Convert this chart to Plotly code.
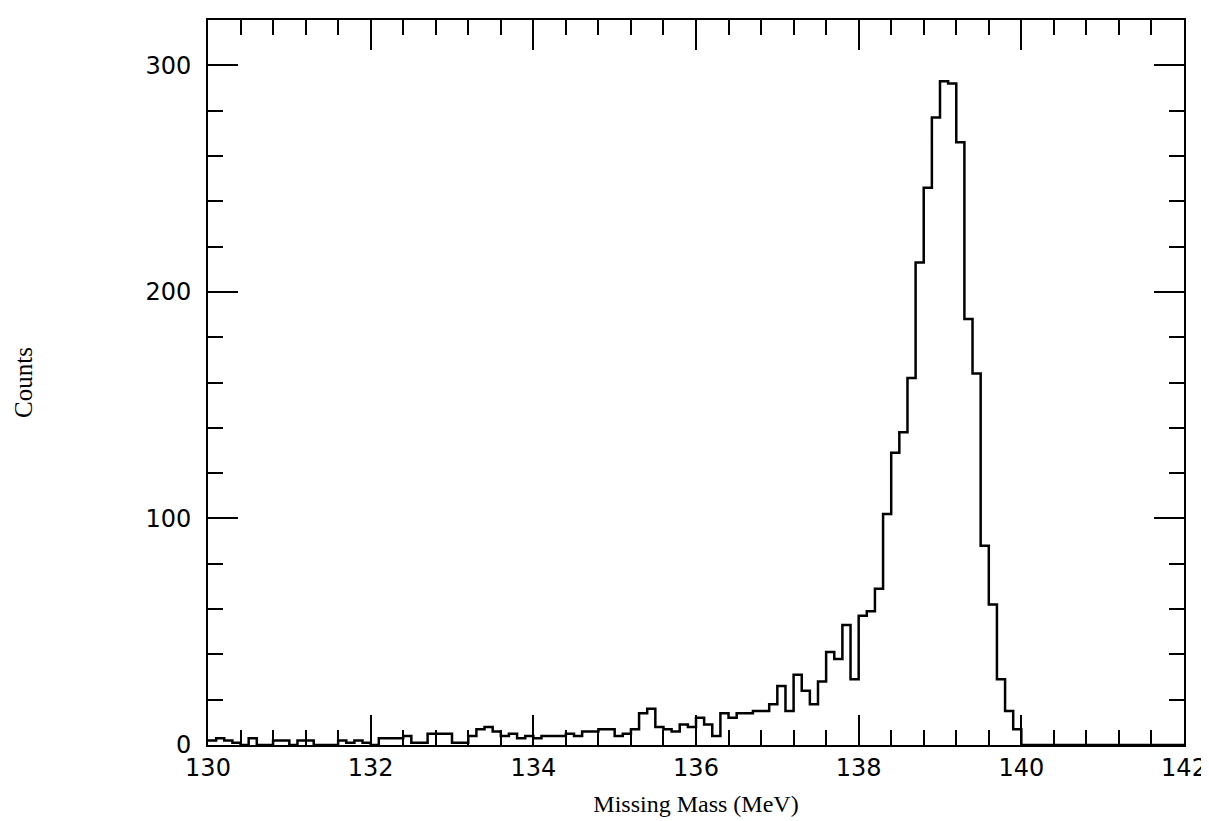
import numpy as np
import plotly.graph_objects as go

# Histogram: missing mass, 0.1 MeV bins from 130.0 to 142.0
bin_start = 130.0
bin_width = 0.1
counts = [
    # 130.0 - 130.9
    2, 3, 2, 1, 0, 3, 0, 0, 2, 2,
    # 131.0 - 131.9
    0, 2, 2, 0, 0, 0, 2, 1, 2, 1,
    # 132.0 - 132.9
    0, 3, 3, 3, 4, 1, 1, 5, 5, 5,
    # 133.0 - 133.9
    1, 1, 4, 7, 8, 6, 4, 5, 3, 4,
    # 134.0 - 134.9
    3, 4, 4, 4, 5, 4, 6, 6, 7, 7,
    # 135.0 - 135.9
    4, 5, 7, 14, 16, 8, 7, 6, 9, 8,
    # 136.0 - 136.9
    12, 9, 4, 14, 12, 14, 14, 15, 15, 18,
    # 137.0 - 137.9
    26, 15, 31, 24, 18, 28, 41, 38, 53, 29,
    # 138.0 - 138.9
    57, 59, 69, 102, 129, 138, 162, 213, 246, 277,
    # 139.0 - 139.9
    293, 292, 266, 188, 164, 88, 62, 29, 15, 7,
    # 140.0 - 140.9
    0, 0, 0, 0, 0, 0, 0, 0, 0, 0,
    # 141.0 - 141.9
    0, 0, 0, 0, 0, 0, 0, 0, 0, 0,
]
x_tick_vals = [130, 132, 134, 136, 138, 140, 142]
x_tick_text = ["130", "132", "134", "136", "138", "140", "142"]
y_tick_vals = [0, 100, 200, 300]
y_tick_text = ["0", "100", "200", "300"]

edges = bin_start + bin_width * np.arange(len(counts) + 1)
y_step = counts + [counts[-1]]

fig = go.Figure()
fig.add_trace(go.Scatter(
    x=edges, y=y_step, mode="lines",
    line=dict(shape="hv", color="black", width=2.5),
    showlegend=False, hoverinfo="skip",
))

tick_font = dict(family="DejaVu Sans", size=24, color="black")
title_font = dict(family="Liberation Serif", size=24, color="black")

fig.update_layout(
    width=1209, height=821,
    margin=dict(l=200, r=24, t=10, b=84),
    paper_bgcolor="white", plot_bgcolor="white",
    xaxis=dict(
        range=[130, 142], tickmode="array", tickvals=x_tick_vals, ticktext=x_tick_text,
        ticks="inside", ticklen=30, tickwidth=2, tickcolor="black",
        minor=dict(dtick=0.4, tick0=130, ticks="inside", ticklen=15, tickwidth=1.5, tickcolor="black", showgrid=False),
        showline=True, linecolor="black", linewidth=2, mirror="ticks",
        showgrid=False, zeroline=False,
        tickfont=tick_font,
        title=dict(text="Missing Mass (MeV)", font=title_font, standoff=14),
    ),
    yaxis=dict(
        range=[0, 320], tickmode="array", tickvals=y_tick_vals, ticktext=y_tick_text,
        ticks="inside", ticklen=30, tickwidth=2, tickcolor="black",
        minor=dict(dtick=20, tick0=0, ticks="inside", ticklen=15, tickwidth=1.5, tickcolor="black", showgrid=False),
        showline=True, linecolor="black", linewidth=2, mirror="ticks",
        showgrid=False, zeroline=False,
        tickfont=tick_font, ticklabelstandoff=10,
        title=dict(text="Counts", font=dict(family="Liberation Serif", size=25, color="black"), standoff=106),
    ),
)

fig.write_html("out.html")
